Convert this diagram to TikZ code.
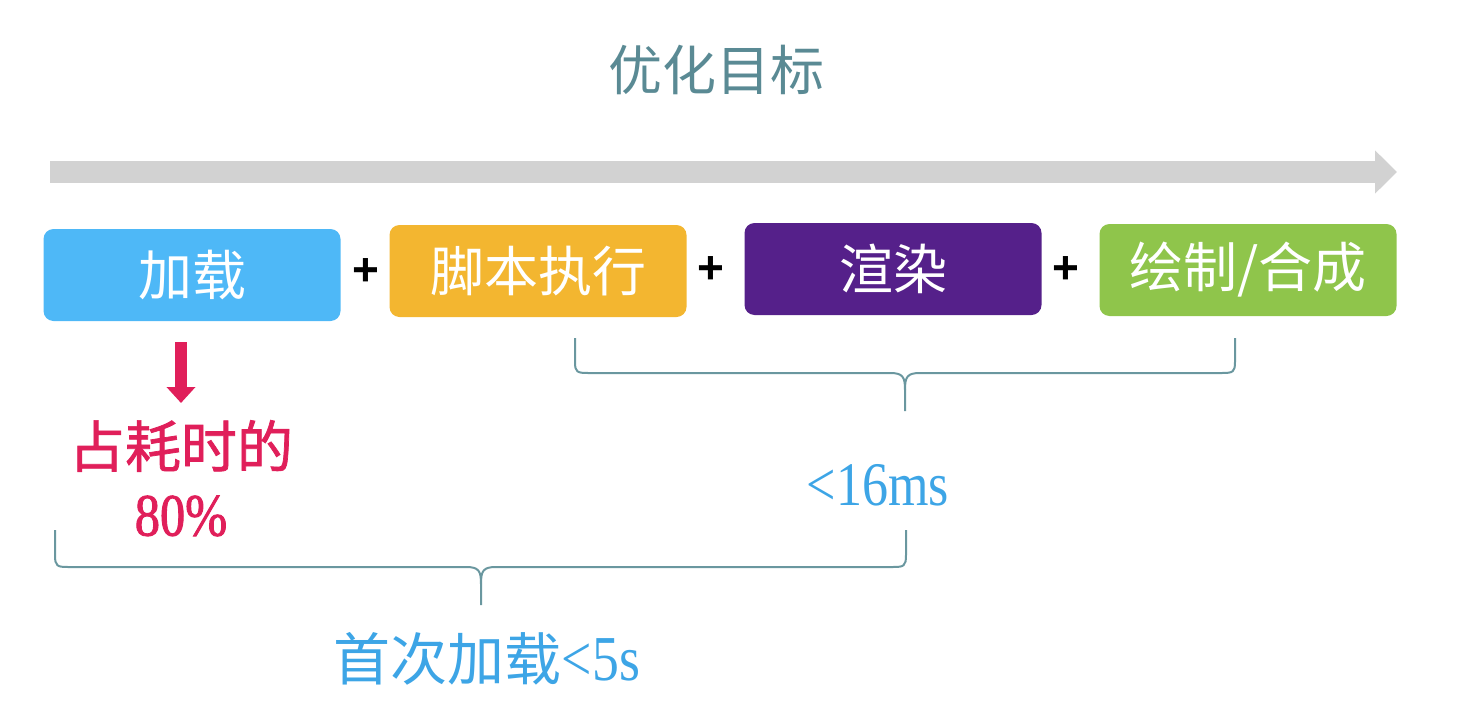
\documentclass[tikz,border=0pt]{standalone}
\usepackage{fontspec}
\newfontfamily\cjk{Noto Sans CJK SC}
\newfontfamily\cjkred[FakeBold=1.3]{Noto Sans CJK SC}
\newfontfamily\latn[FakeStretch=0.84]{Liberation Serif}
\newfontfamily\latnred[FakeStretch=0.84,FakeBold=1.5]{Liberation Serif}
\newfontfamily\plusfont{Liberation Sans}
\usetikzlibrary{arrows.meta}
\definecolor{cteal}{HTML}{5A8A94}
\definecolor{cbrace}{HTML}{6A979F}
\definecolor{cgray}{HTML}{D2D2D2}
\definecolor{cblue}{HTML}{4EB8F7}
\definecolor{corange}{HTML}{F3B630}
\definecolor{cpurple}{HTML}{55208A}
\definecolor{cgreen}{HTML}{8FC54B}
\definecolor{cred}{HTML}{E01F5A}
\definecolor{ctext}{HTML}{3DA5E6}
\tikzset{
  stagebox/.style={rounded corners=10pt, minimum width=297pt, minimum height=92pt,
    text=white, inner sep=0pt, font=\cjk\fontsize{54}{60}\selectfont},
  plussign/.style={font=\plusfont\bfseries\fontsize{46}{50}\selectfont, text=black, inner sep=0pt},
  axisarrow/.style={line width=22pt, cgray, -{Triangle[width=42pt,length=22pt]}},
  redarrow/.style={line width=12pt, cred, -{Triangle[width=28pt,length=16pt]}},
  bracepath/.style={line width=2pt, cbrace},
  redtext/.style={text=cred, inner sep=0pt},
  bluetext/.style={text=ctext, inner sep=0pt}
}
\begin{document}
\begin{tikzpicture}[x=1pt,y=-1pt]
\useasboundingbox (0,0) rectangle (1462,728);
% title
\node[text=cteal, inner sep=0pt, font=\cjk\fontsize{54}{60}\selectfont] (title) at (716,70) {优化目标};
% axis arrow
\coordinate (axs) at (50,172);
\coordinate (axe) at (1397,172);
\draw[axisarrow] (axs) -- (axe);
% stage boxes
\node[stagebox, fill=cblue] (load) at (192,275) {加载};
\node[stagebox, fill=corange] (script) at (538,271) {脚本执行};
\node[stagebox, fill=cpurple] (render) at (893,269) {渲染};
\node[stagebox, fill=cgreen] (paint) at (1248,270) {绘制/合成};
% plus signs
\node[plussign] (p1) at (366,272) {+};
\node[plussign] (p2) at (711,270) {+};
\node[plussign] (p3) at (1066,270) {+};
% red arrow and text
\node[redtext, font=\cjkred\fontsize{56}{60}\selectfont] (pcta) at (181,446) {占耗时的};
\node[redtext, font=\latnred\fontsize{60}{64}\selectfont] (pctb) at (181,516) {80\%};
\coordinate (rtip) at (181,403);
\draw[redarrow, shorten <=21pt] (rtip |- load.south) -- (rtip);
% brace 1
\coordinate (b1tip) at (905,411);
\draw[bracepath] (575,338) -- (575,362) .. controls (575,372) and (577,373) .. (588,373) -- (890,373) .. controls (903,373) and (905,377) .. (905,390) -- (b1tip);
\draw[bracepath] (1235,338) -- (1235,362) .. controls (1235,372) and (1233,373) .. (1222,373) -- (920,373) .. controls (907,373) and (905,377) .. (905,390);
\node[bluetext, font=\latn\fontsize{62}{66}\selectfont] (fast) at (878,485) {<16ms};
% brace 2
\coordinate (b2tip) at (481,605);
\draw[bracepath] (55,530) -- (55,555) .. controls (55,566) and (57,567) .. (68,567) -- (466,567) .. controls (479,567) and (481,571) .. (481,584) -- (b2tip);
\draw[bracepath] (906,530) -- (906,555) .. controls (906,566) and (904,567) .. (893,567) -- (496,567) .. controls (483,567) and (481,571) .. (481,584);
\node[bluetext] (first) at (487,659) {\cjk\fontsize{57}{60}\selectfont 首次加载\latn\fontsize{64}{66}\selectfont <5s};
\end{tikzpicture}
\end{document}
